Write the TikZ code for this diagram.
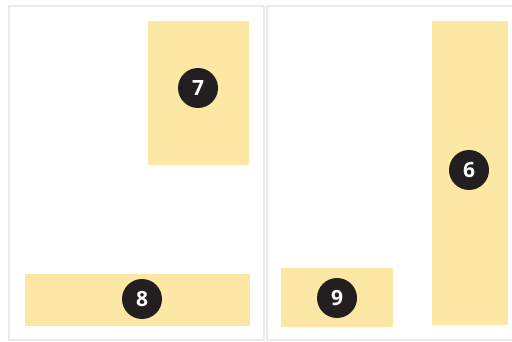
\documentclass[tikz,border=0pt]{standalone}
\usepackage{fontspec}
\setmainfont{Open Sans}
\begin{document}
\begin{tikzpicture}[x=1pt,y=-1pt,
  panel/.style={draw=paneledge,line width=2.2pt},
  block/.style={fill=blockfill,draw=none},
  badge/.style={circle,fill=badgefill,text=white,minimum size=40pt,inner sep=0pt,font=\bfseries\fontsize{21}{21}\selectfont}]
\definecolor{paneledge}{HTML}{EBEBEB}
\definecolor{blockfill}{HTML}{FDE7A4}
\definecolor{badgefill}{HTML}{231F20}
\useasboundingbox (0,0) rectangle (512,342);
\fill[white] (0,0) rectangle (512,342);
\draw[panel] (9,6) rectangle (264,340);
\draw[panel] (267,6) rectangle (530,340);
\fill[block] (148,21) rectangle (249,165);
\fill[block] (25,274) rectangle (250,326);
\fill[block] (432,21) rectangle (508,325);
\fill[block] (281,268) rectangle (393,327);
\node[badge] (n7) at (198,88) {7};
\node[badge] (n8) at (142,299) {8};
\node[badge] (n6) at (469,170) {6};
\node[badge] (n9) at (337,298) {9};
\end{tikzpicture}
\end{document}
